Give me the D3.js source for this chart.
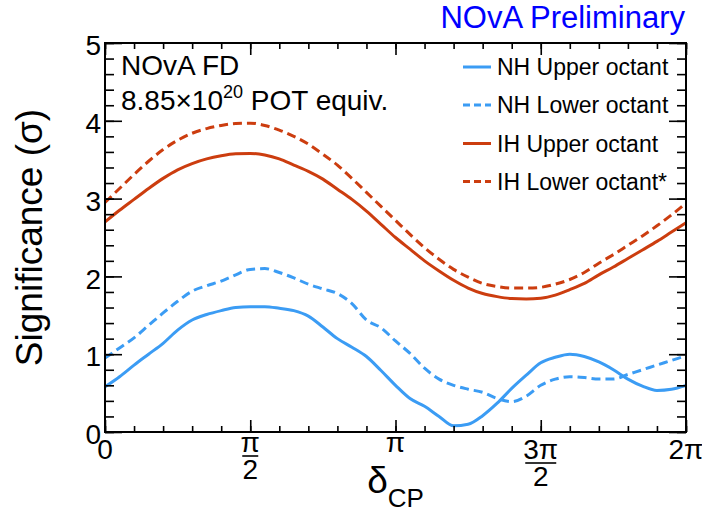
<!DOCTYPE html>
<html>
<head>
<meta charset="utf-8">
<script src="https://cdn.jsdelivr.net/npm/d3@7"></script>
<style>
  body { margin: 0; background: #fff; }
  svg { display: block; font-family: "Liberation Sans", Arial, Helvetica, sans-serif; }
</style>
</head>
<body>
<script>
// delta_CP, in units of pi
var deltaCP = [0, 0.05, 0.1, 0.15, 0.2, 0.25, 0.3, 0.35, 0.4, 0.45, 0.5, 0.55, 0.6, 0.65,
  0.7, 0.75, 0.8, 0.85, 0.9, 0.95, 1, 1.05, 1.1, 1.15, 1.2, 1.25, 1.3, 1.35, 1.4, 1.45,
  1.5, 1.55, 1.6, 1.65, 1.7, 1.75, 1.8, 1.85, 1.9, 1.95, 2];

// significance (sigma) for each hypothesis
var nhUpper = [0.58, 0.71, 0.86, 1.0, 1.14, 1.31, 1.44, 1.51, 1.56, 1.6, 1.61, 1.61, 1.59, 1.56,
  1.49, 1.35, 1.2, 1.09, 0.97, 0.79, 0.6, 0.43, 0.33, 0.2, 0.08, 0.1, 0.21, 0.37, 0.56, 0.73,
  0.89, 0.96, 1.0, 0.97, 0.9, 0.8, 0.68, 0.59, 0.535, 0.55, 0.6];
var nhLower = [0.95, 1.08, 1.21, 1.37, 1.53, 1.68, 1.81, 1.88, 1.94, 2.02, 2.09, 2.1, 2.05, 1.98,
  1.9, 1.84, 1.78, 1.65, 1.44, 1.34, 1.17, 1.01, 0.82, 0.68, 0.6, 0.55, 0.51, 0.43, 0.39, 0.46,
  0.6, 0.68, 0.71, 0.7, 0.68, 0.68, 0.74, 0.8, 0.86, 0.92, 0.98];
var ihUpper = [2.7, 2.85, 2.99, 3.13, 3.26, 3.37, 3.45, 3.51, 3.55, 3.575, 3.58, 3.56, 3.51, 3.43,
  3.35, 3.25, 3.12, 2.99, 2.84, 2.67, 2.5, 2.35, 2.2, 2.07, 1.95, 1.85, 1.78, 1.74, 1.715, 1.71,
  1.72, 1.76, 1.83, 1.91, 2.02, 2.12, 2.23, 2.34, 2.45, 2.57, 2.69];
var ihLower = [2.95, 3.13, 3.31, 3.48, 3.63, 3.75, 3.84, 3.9, 3.94, 3.965, 3.97, 3.94, 3.88, 3.8,
  3.7, 3.57, 3.43, 3.26, 3.08, 2.9, 2.72, 2.54, 2.37, 2.22, 2.09, 1.99, 1.91, 1.87, 1.85, 1.85,
  1.86, 1.9, 1.96, 2.05, 2.17, 2.28, 2.4, 2.52, 2.65, 2.79, 2.94];

var seriesNames = ["NH Upper octant", "NH Lower octant", "IH Upper octant", "IH Lower octant*"];

// axis ticks
var xTickPos = [0, 0.5, 1, 1.5, 2];
var xTickNum = ["0", "\u03c0", "\u03c0", "3\u03c0", "2\u03c0"];
var xTickDen = ["", "2", "", "2", ""];
var yTicks = [0, 1, 2, 3, 4, 5];

margin = { top: 43, left: 105, bottom: 82, right: 16 };
width = 702 - margin.left - margin.right;
height = 514 - margin.top - margin.bottom;

var blue = "#3b9cf4";
var red = "#cc3d0f";

var series = [
  { name: seriesNames[0], values: nhUpper, color: blue, dash: null },
  { name: seriesNames[1], values: nhLower, color: blue, dash: "9,5" },
  { name: seriesNames[2], values: ihUpper, color: red, dash: null },
  { name: seriesNames[3], values: ihLower, color: red, dash: "9,5" },
];

var x = d3.scaleLinear().domain([0, 2]).range([0, width]);
var y = d3.scaleLinear().domain([0, 5]).range([height, 0]);

const svg = d3.create("svg").attr("width", 702).attr("height", 514);

const chart = svg
  .append("g")
  .attr("transform", `translate(${margin.left},${margin.top})`);

chart
  .append("clipPath")
  .attr("id", "plotclip")
  .append("rect")
  .attr("width", width)
  .attr("height", height);

const line = d3
  .line()
  .curve(d3.curveMonotoneX)
  .x((d, i) => x(deltaCP[i]))
  .y((d) => y(d));

chart
  .append("g")
  .attr("clip-path", "url(#plotclip)")
  .selectAll("path")
  .data(series)
  .join("path")
  .attr("fill", "none")
  .attr("stroke", (d) => d.color)
  .attr("stroke-width", 3)
  .attr("stroke-dasharray", (d) => d.dash)
  .attr("d", (d) => line(d.values));

// ticks on all four sides, pointing inward (ROOT style)
var xMinor = x.ticks(20);
var yMinor = y.ticks(25);
function tickStyle(g) {
  g.select(".domain").remove();
  g.selectAll(".tick line").attr("stroke", "#000").attr("stroke-width", 1.6);
}
chart.append("g").attr("transform", `translate(0,${height})`)
  .call(d3.axisBottom(x).tickValues(xMinor).tickSize(-6).tickFormat("")).call(tickStyle);
chart.append("g").attr("transform", `translate(0,${height})`)
  .call(d3.axisBottom(x).tickValues(xTickPos).tickSize(-12).tickFormat("")).call(tickStyle);
chart.append("g")
  .call(d3.axisTop(x).tickValues(xMinor).tickSize(-6).tickFormat("")).call(tickStyle);
chart.append("g")
  .call(d3.axisTop(x).tickValues(xTickPos).tickSize(-12).tickFormat("")).call(tickStyle);
chart.append("g")
  .call(d3.axisLeft(y).tickValues(yMinor).tickSize(-9).tickFormat("")).call(tickStyle);
chart.append("g")
  .call(d3.axisLeft(y).tickValues(yTicks).tickSize(-17).tickPadding(4).tickFormat(d3.format("d")))
  .call(tickStyle)
  .call((g) => g.selectAll(".tick text")
    .attr("font-size", 28).attr("fill", "#000").attr("font-family", null).attr("dy", "0.42em"));
chart.append("g").attr("transform", `translate(${width},0)`)
  .call(d3.axisRight(y).tickValues(yMinor).tickSize(-9).tickFormat("")).call(tickStyle);
chart.append("g").attr("transform", `translate(${width},0)`)
  .call(d3.axisRight(y).tickValues(yTicks).tickSize(-17).tickFormat("")).call(tickStyle);

// frame
chart
  .append("rect")
  .attr("width", width)
  .attr("height", height)
  .attr("fill", "none")
  .attr("stroke", "#000")
  .attr("stroke-width", 2);

// x tick labels, fractions of pi, top-aligned under the axis
const xl = chart.append("g").attr("font-size", 28).attr("text-anchor", "middle");
xTickPos.forEach((p, i) => {
  var hasDigit = /\d/.test(xTickNum[i]);
  var base = height + (hasDigit ? 27 : 20);
  xl.append("text").attr("x", x(p)).attr("y", base).text(xTickNum[i]);
  if (xTickDen[i]) {
    var w = hasDigit ? 31 : 16;
    chart.append("line")
      .attr("x1", x(p) - w / 2).attr("x2", x(p) + w / 2)
      .attr("y1", base + 4).attr("y2", base + 4)
      .attr("stroke", "#000").attr("stroke-width", 1.6);
    xl.append("text").attr("x", x(p)).attr("y", base + 27).text(xTickDen[i]);
  }
});

// axis titles
const xt = svg.append("text")
  .attr("x", margin.left + width / 2)
  .attr("y", 493)
  .attr("text-anchor", "middle")
  .attr("font-size", 37);
xt.append("tspan").text("\u03b4");
xt.append("tspan").attr("font-size", 26).attr("dy", 14).text("CP");

svg.append("text")
  .attr("transform", `translate(42,${margin.top + height / 2}) rotate(-90)`)
  .attr("text-anchor", "middle")
  .attr("font-size", 37)
  .text("Significance (\u03c3)");

// labels
svg.append("text")
  .attr("x", 685).attr("y", 28)
  .attr("text-anchor", "end")
  .attr("font-size", 31)
  .attr("fill", "#0000ff")
  .text("NOvA Preliminary");

svg.append("text").attr("x", 121).attr("y", 75).attr("font-size", 28).text("NOvA FD");
const pot = svg.append("text").attr("x", 121).attr("y", 110).attr("font-size", 28);
pot.append("tspan").text("8.85\u00d710");
pot.append("tspan").attr("font-size", 18).attr("dy", -12).text("20");
pot.append("tspan").attr("dy", 12).text(" POT equiv.");

// legend
const legend = svg.append("g");
var legendY = [67, 105, 143.5, 181.5];
series.forEach((s, i) => {
  legend.append("line")
    .attr("x1", 463).attr("x2", 491)
    .attr("y1", legendY[i]).attr("y2", legendY[i])
    .attr("stroke", s.color).attr("stroke-width", 3)
    .attr("stroke-dasharray", s.dash ? "7,4" : null);
  legend.append("text")
    .attr("x", 497).attr("y", legendY[i] + 8)
    .attr("font-size", 23)
    .text(s.name);
});

d3.select("body").append(() => svg.node());
</script>
</body>
</html>
